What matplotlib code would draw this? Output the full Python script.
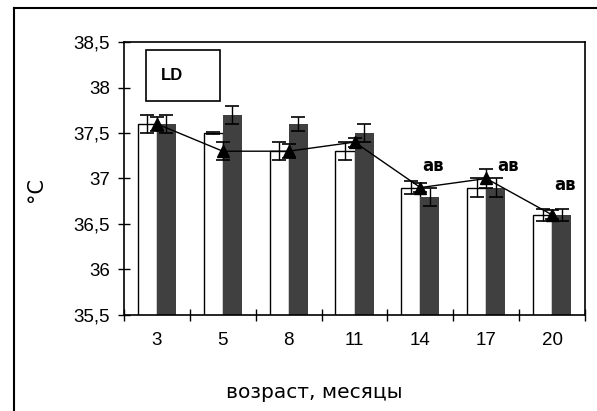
import numpy as np
import matplotlib
matplotlib.use("Agg")
from matplotlib import pyplot as plt
from matplotlib.lines import Line2D
from matplotlib.patches import Rectangle

# data
months = ['3', '5', '8', '11', '14', '17', '20']
white_vals = [37.6, 37.5, 37.3, 37.3, 36.9, 36.9, 36.6]
white_err = [0.1, 0.01, 0.1, 0.1, 0.07, 0.1, 0.07]
dark_vals = [37.6, 37.7, 37.6, 37.5, 36.8, 36.9, 36.6]
dark_err = [0.1, 0.1, 0.08, 0.1, 0.1, 0.1, 0.07]
line_vals = [37.6, 37.3, 37.3, 37.4, 36.9, 37.0, 36.6]
line_err = [0.08, 0.1, 0.08, 0.05, 0.05, 0.1, 0.05]
marks = ['', '', '', '', 'ав', 'ав', 'ав']
mark_y = [0, 0, 0, 0, 37.14, 37.14, 36.93]

x = np.arange(len(months))
w = 0.29

fig = plt.figure(figsize=(5.97, 4.11), dpi=100)
ax = fig.add_axes([0.2077, 0.2336, 0.98 - 0.2077, 0.8978 - 0.2336])

# outer frame (left and top visible)
fig.add_artist(Line2D([14/597, 14/597], [0, 1 - 8/411], color='black', lw=1.5))
fig.add_artist(Line2D([14/597, 1], [1 - 8/411, 1 - 8/411], color='black', lw=1.5))

ax.bar(x - w/2, white_vals, w, color='white', edgecolor='black', linewidth=1, zorder=2)
ax.bar(x + w/2, dark_vals, w, color='#404040', edgecolor='#404040', linewidth=0, zorder=2)
ax.errorbar(x - w/2, white_vals, yerr=white_err, fmt='none', ecolor='black', elinewidth=1, capsize=5, capthick=1.2, zorder=3)
ax.errorbar(x + w/2, dark_vals, yerr=dark_err, fmt='none', ecolor='black', elinewidth=1, capsize=5, capthick=1.2, zorder=3)
ax.errorbar(x, line_vals, yerr=line_err, color='black', lw=1, marker='^', markersize=9,
            capsize=5, capthick=1.2, elinewidth=1, zorder=4)

offs = [0, 0, 0, 0, 0.19, 0.33, 0.2]
for xi, t in enumerate(marks):
    if t:
        ax.text(xi + offs[xi], mark_y[xi], t, fontsize=12, fontweight='bold',
                ha='center', va='center', family='DejaVu Sans', zorder=5)

ax.set_ylim(35.5, 38.5)
ax.set_xlim(-0.5, len(months) - 0.5)
yt = np.arange(35.5, 38.51, 0.5)
ax.set_yticks(yt)
ax.set_yticklabels([('%g' % v).replace('.', ',') for v in yt], family='Liberation Sans', fontsize=13.5)
ax.set_xticks(np.arange(-0.5, len(months), 1.0))
ax.set_xticklabels([])
ax.set_xticks(x, minor=True)
ax.set_xticklabels(months, minor=True, family='Liberation Sans', fontsize=13.5)
ax.tick_params(axis='x', which='major', direction='inout', length=8, width=1)
ax.tick_params(axis='x', which='minor', length=0, pad=12)
ax.tick_params(axis='y', direction='inout', length=8, width=1, pad=6)
for s in ax.spines.values():
    s.set_linewidth(1.2)

ax.set_xlabel('возраст, месяцы', fontsize=14.5, family='DejaVu Sans')
ax.xaxis.set_label_coords(0.412, -0.249)
ax.set_ylabel('°C', fontsize=15, family='DejaVu Sans', va='center')
ax.yaxis.set_label_coords(-0.19, 0.458)

# "LD" box
ax.add_patch(Rectangle((0.048, 37.85), 0.16, 38.41 - 37.85, transform=ax.get_yaxis_transform(),
                       facecolor='white', edgecolor='black', lw=1.2, zorder=5))
ax.text(0.104, 38.13, 'LD', transform=ax.get_yaxis_transform(), fontsize=12, fontweight='bold',
        family='Liberation Sans', ha='center', va='center', zorder=6)

fig.savefig('out.png', dpi=100)
